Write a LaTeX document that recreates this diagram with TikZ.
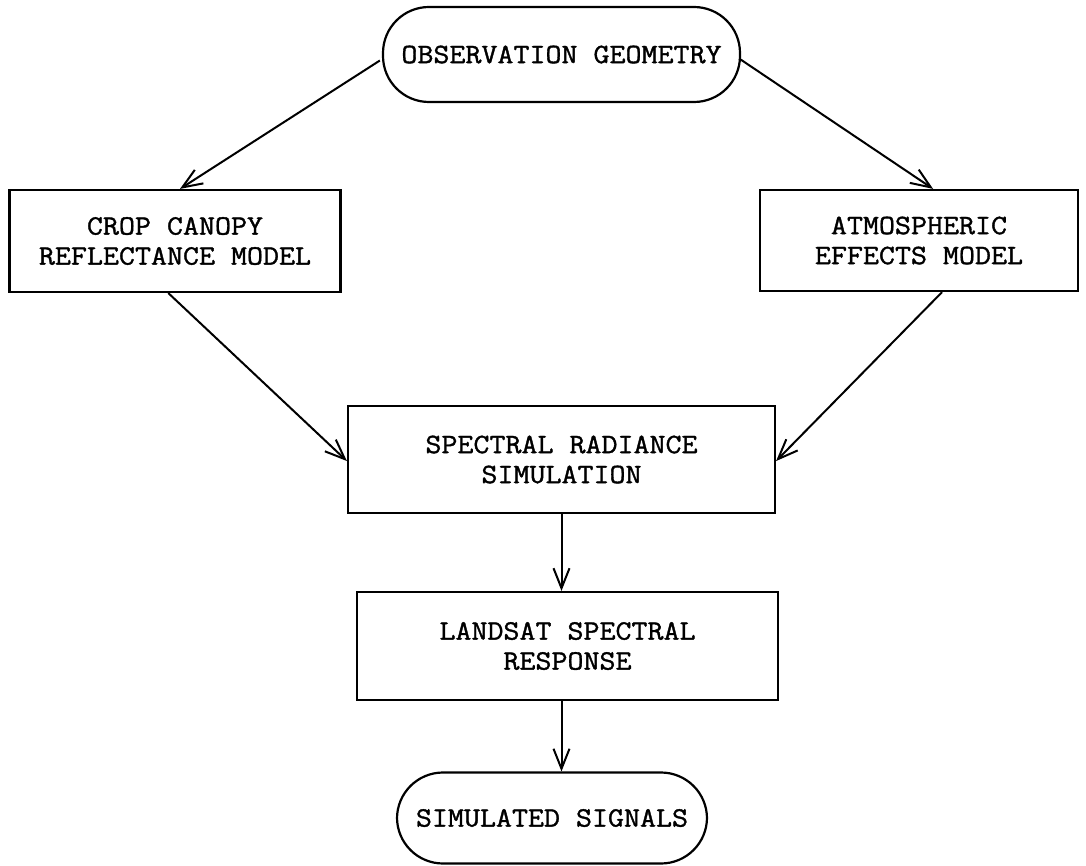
\documentclass[tikz,border=0pt]{standalone}
\usepackage{fontspec}
\setmonofont{Latin Modern Mono}[FakeBold=1.3,FakeStretch=1.11]
\usetikzlibrary{arrows.meta,calc}
\tikzset{
  box/.style={draw, line width=2.2pt, rectangle, align=center, inner sep=0pt,
    font=\ttfamily\fontsize{28pt}{30pt}\selectfont},
  term/.style={box, rounded corners=46pt},
  arr/.style={line width=2pt, -{Straight Barb[length=20pt,width=16pt,line width=2pt]}}
}
\begin{document}
\begin{tikzpicture}[x=1pt,y=-1pt]
\useasboundingbox (0,0) rectangle (1086,866);
\node[term, minimum width=357pt, minimum height=95pt] (obs) at (561.5,54.5) {OBSERVATION GEOMETRY};
\node[box, minimum width=331pt, minimum height=102pt] (crop) at (175,241) {CROP CANOPY\\REFLECTANCE MODEL};
\node[box, minimum width=318pt, minimum height=101pt] (atm) at (919,240.5) {ATMOSPHERIC\\EFFECTS MODEL};
\node[box, minimum width=427pt, minimum height=107pt] (spec) at (561.5,459.5) {SPECTRAL RADIANCE\\SIMULATION};
\node[box, minimum width=421pt, minimum height=108pt] (land) at (567.5,646) {LANDSAT SPECTRAL\\RESPONSE};
\node[term, minimum width=310pt, minimum height=91pt] (sim) at (552,818) {SIMULATED SIGNALS};

\draw[arr] ($(obs.west)+(-2,6)$) -- ($(crop.north west)!0.515!(crop.north east)$);
\draw[arr] ($(obs.east)+(-2,4)$) -- ($(atm.north west)!0.544!(atm.north east)$);
\draw[arr] ($(crop.south west)!0.48!(crop.south east)$) -- ($(spec.north west)!0.514!(spec.south west)$);
\draw[arr] ($(atm.south west)!0.572!(atm.south east)$) -- ($(spec.north east)!0.514!(spec.south east)$);
\draw[arr] (spec.south) -- (spec.south |- land.north);
\draw[arr] (spec.south |- land.south) -- (spec.south |- sim.north);
\end{tikzpicture}
\end{document}
